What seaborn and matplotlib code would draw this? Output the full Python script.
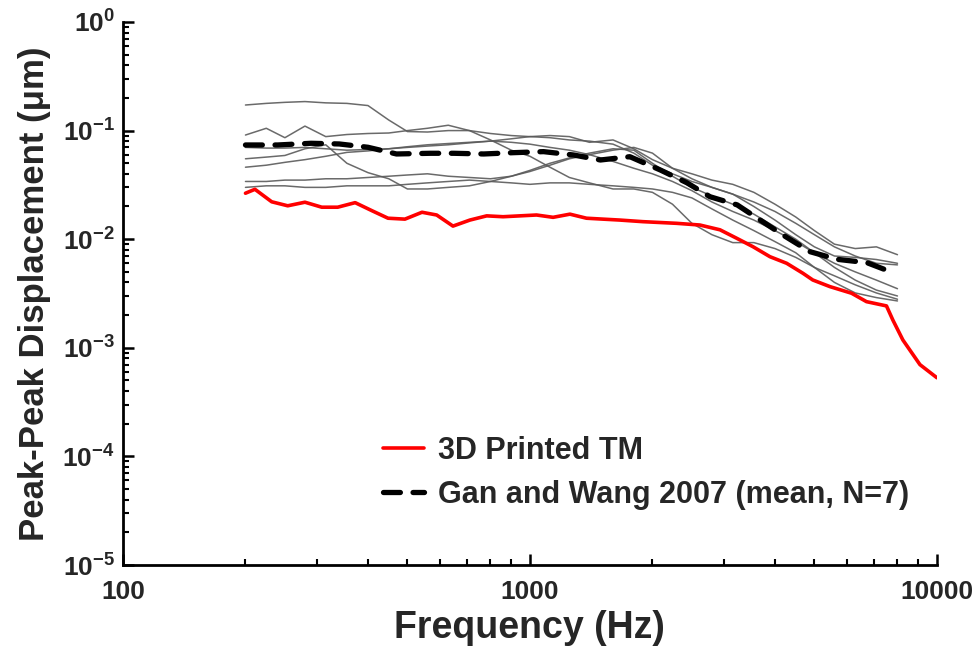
import matplotlib
matplotlib.use("Agg")
import matplotlib.pyplot as plt
import matplotlib.ticker as mticker
import numpy as np
import pandas as pd
import seaborn as sns

# ---------------- data ----------------
printed_freq = [200, 211, 232, 254, 280, 308, 337, 372, 409, 448, 493, 543, 590, 647, 712,
                783, 859, 945, 1038, 1140, 1254, 1377, 1511, 1663, 1895, 2293, 2617, 2931,
                3221, 3532, 3888, 4274, 4688, 4955, 5458, 6169, 6714, 7518, 7795, 8249,
                9085, 10000]
printed_disp = [0.0265, 0.0288, 0.0221, 0.0203, 0.0219, 0.0197, 0.0197, 0.0217, 0.0183,
                0.0156, 0.0153, 0.0177, 0.0167, 0.0132, 0.0150, 0.0164, 0.0161, 0.0164,
                0.0167, 0.0159, 0.0170, 0.0156, 0.0153, 0.0150, 0.0145, 0.0140, 0.0135,
                0.0122, 0.0102, 0.00853, 0.00690, 0.00600, 0.00485, 0.00421, 0.00366,
                0.00318, 0.00266, 0.00243, 0.00180, 0.00118, 0.00070, 0.00053]

mean_freq = [200, 240, 290, 340, 400, 470, 570, 650, 770, 910, 1080, 1280, 1490, 1760,
             2090, 2430, 2770, 3230, 3680, 4190, 4880, 5680, 6730, 7800]
mean_disp = [0.0737, 0.0737, 0.0764, 0.0753, 0.0702, 0.0609, 0.0618, 0.0618, 0.0609,
             0.0626, 0.0640, 0.0596, 0.0536, 0.0575, 0.0434, 0.0331, 0.0246, 0.0207,
             0.0150, 0.0109, 0.00767, 0.00653, 0.00608, 0.00492]

subject_freq = [200, 225, 250, 280, 315, 355, 400, 450, 500, 560, 630, 710, 800, 900, 1000,
                1120, 1250, 1400, 1600, 1800, 2000, 2240, 2500, 2800, 3150, 3550, 4000,
                4500, 5000, 5600, 6300, 7100, 8000]
subject_a = [0.172, 0.178, 0.182, 0.185, 0.180, 0.178, 0.170, 0.125, 0.098, 0.097, 0.100,
             0.100, 0.082, 0.066, 0.058, 0.046, 0.037, 0.033, 0.029, 0.029, 0.027, 0.021,
             0.014, 0.011, 0.0093, 0.0093, 0.0082, 0.0068, 0.0055, 0.0046, 0.0038, 0.0032,
             0.0028]
subject_b = [0.091, 0.105, 0.086, 0.110, 0.088, 0.092, 0.094, 0.095, 0.100, 0.105, 0.112,
             0.100, 0.094, 0.090, 0.088, 0.090, 0.088, 0.078, 0.082, 0.068, 0.054, 0.045,
             0.040, 0.035, 0.032, 0.027, 0.021, 0.016, 0.012, 0.0090, 0.0082, 0.0085,
             0.0072]
subject_c = [0.070, 0.069, 0.069, 0.070, 0.068, 0.066, 0.067, 0.068, 0.070, 0.072, 0.074,
             0.077, 0.080, 0.084, 0.088, 0.086, 0.082, 0.080, 0.075, 0.062, 0.048, 0.040,
             0.034, 0.030, 0.026, 0.020, 0.015, 0.011, 0.0085, 0.0070, 0.0068, 0.0065,
             0.0060]
subject_d = [0.055, 0.057, 0.059, 0.068, 0.074, 0.050, 0.041, 0.036, 0.029, 0.029, 0.030,
             0.031, 0.034, 0.038, 0.043, 0.050, 0.056, 0.062, 0.068, 0.066, 0.050, 0.038,
             0.030, 0.025, 0.021, 0.017, 0.013, 0.010, 0.0075, 0.0055, 0.0042, 0.0034,
             0.0030]
subject_e = [0.046, 0.048, 0.051, 0.054, 0.058, 0.063, 0.065, 0.068, 0.071, 0.074, 0.076,
             0.078, 0.080, 0.078, 0.075, 0.070, 0.066, 0.060, 0.052, 0.045, 0.040, 0.034,
             0.028, 0.022, 0.018, 0.015, 0.012, 0.0095, 0.0075, 0.0060, 0.0050, 0.0042,
             0.0035]
subject_f = [0.034, 0.034, 0.035, 0.035, 0.036, 0.036, 0.037, 0.038, 0.039, 0.040, 0.038,
             0.037, 0.036, 0.038, 0.042, 0.048, 0.055, 0.060, 0.066, 0.070, 0.062, 0.045,
             0.036, 0.030, 0.026, 0.022, 0.018, 0.014, 0.011, 0.0085, 0.0070, 0.0060,
             0.0058]
subject_g = [0.030, 0.031, 0.031, 0.030, 0.030, 0.031, 0.031, 0.031, 0.032, 0.033, 0.034,
             0.035, 0.034, 0.033, 0.032, 0.033, 0.033, 0.032, 0.031, 0.030, 0.029, 0.027,
             0.024, 0.019, 0.015, 0.012, 0.0095, 0.0075, 0.0055, 0.0040, 0.0032, 0.0029,
             0.0027]

x_ticks = [100, 1000, 10000]
x_tick_labels = ["100", "1000", "10000"]
y_ticks = [1e-5, 1e-4, 1e-3, 1e-2, 1e-1, 1e0]
y_exponents = ["-5", "-4", "-3", "-2", "-1", "0"]

label_printed = "3D Printed TM"
label_mean = "Gan and Wang 2007 (mean, N=7)"

# ---------------- style ----------------
sns.set_style("ticks")
plt.rcParams["font.family"] = ["Liberation Sans", "DejaVu Sans"]
plt.rcParams["font.weight"] = "bold"
plt.rcParams["mathtext.fontset"] = "custom"
plt.rcParams["mathtext.rm"] = "Liberation Sans:bold"
plt.rcParams["mathtext.bf"] = "Liberation Sans:bold"
plt.rcParams["mathtext.default"] = "rm"

fig, ax = plt.subplots(figsize=(9.79, 6.56), dpi=100)
fig.subplots_adjust(left=0.1256, right=0.957, top=0.9665, bottom=0.1387)

subjects = [subject_a, subject_b, subject_c, subject_d, subject_e, subject_f, subject_g]
frames = []
for i, vals in enumerate(subjects):
    frames.append(pd.DataFrame({"freq": subject_freq, "disp": vals, "subject": f"S{i+1}"}))
df_sub = pd.concat(frames, ignore_index=True)

sns.lineplot(data=df_sub, x="freq", y="disp", hue="subject",
             palette=["#5a5a5a"] * len(subjects), linewidth=1.1, legend=False,
             estimator=None, ax=ax, alpha=0.9)

df_print = pd.DataFrame({"freq": printed_freq, "disp": printed_disp})
sns.lineplot(data=df_print, x="freq", y="disp", color="#ff0000", linewidth=2.6,
             estimator=None, ax=ax, label=label_printed)

df_mean = pd.DataFrame({"freq": mean_freq, "disp": mean_disp})
sns.lineplot(data=df_mean, x="freq", y="disp", color="black", linewidth=3.8,
             estimator=None, ax=ax, label=label_mean)
mean_line = ax.lines[-1]
mean_line.set_dashes((3.2, 2.4))
mean_line.set_dash_capstyle("round")

ax.set_xscale("log")
ax.set_yscale("log")
ax.set_xlim(100, 10000)
ax.set_ylim(1e-5, 1e0)

ax.xaxis.set_major_locator(mticker.FixedLocator(x_ticks))
ax.xaxis.set_major_formatter(mticker.FixedFormatter(x_tick_labels))
ax.xaxis.set_minor_locator(mticker.LogLocator(base=10, subs=np.arange(2, 10)))
ax.xaxis.set_minor_formatter(mticker.NullFormatter())

ax.yaxis.set_major_locator(mticker.FixedLocator(y_ticks))
ax.yaxis.set_major_formatter(mticker.FixedFormatter(
    [r"$\mathbf{10}^{" + e + "}$" for e in y_exponents]))
ax.yaxis.set_minor_locator(mticker.LogLocator(base=10, subs=np.arange(2, 10), numticks=20))
ax.yaxis.set_minor_formatter(mticker.NullFormatter())

ax.tick_params(axis="both", which="major", direction="in", width=1.8, length=8,
               labelsize=19, color="black")
ax.tick_params(axis="x", which="major", pad=11)
ax.tick_params(axis="y", which="major", pad=6)
ax.tick_params(axis="both", which="minor", direction="in", width=1.5, length=4.5,
               color="black")
for lab in ax.get_xticklabels() + ax.get_yticklabels():
    lab.set_fontweight("bold")

sns.despine(ax=ax)
for side in ["left", "bottom"]:
    ax.spines[side].set_linewidth(2.0)
    ax.spines[side].set_color("black")

ax.set_xlabel("Frequency (Hz)", fontsize=27, fontweight="bold", labelpad=4)
ax.set_ylabel("Peak-Peak Displacement (\u03bcm)", fontsize=25, fontweight="bold",
              labelpad=8)

leg = ax.legend(loc="center left", bbox_to_anchor=(0.319, 0.17), frameon=False,
                handlelength=1.35, handletextpad=0.45, borderpad=0,
                borderaxespad=0, labelspacing=0.45, prop={"weight": "bold", "size": 22})

fig.savefig("out.png", dpi=100)
